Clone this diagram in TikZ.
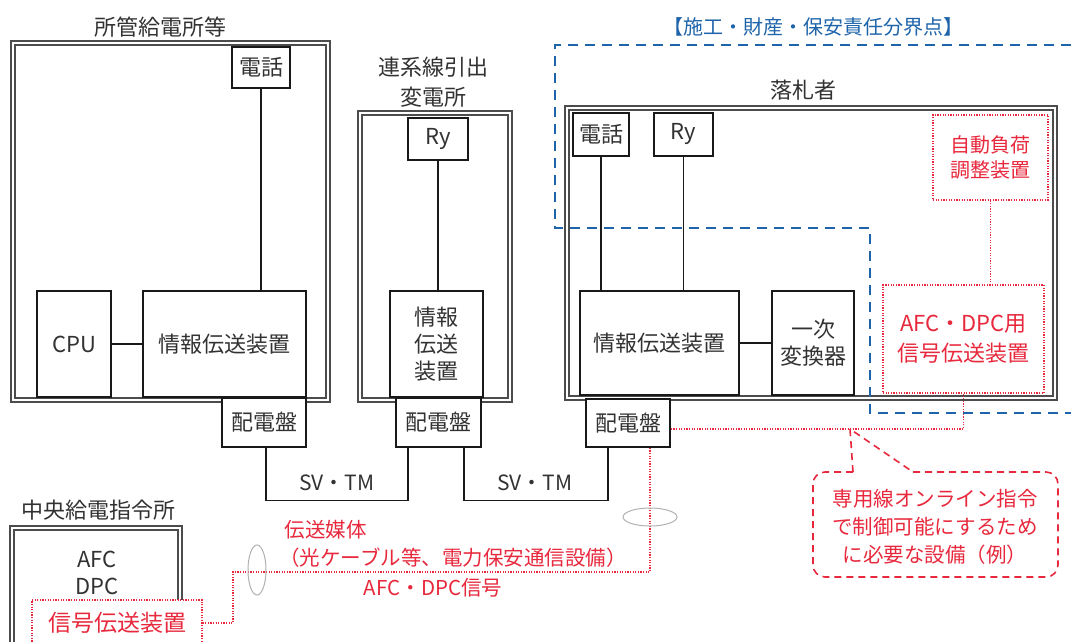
\documentclass[tikz,border=0pt]{standalone}
\usepackage{fontspec}
\setmainfont{Noto Sans CJK JP}
\definecolor{myred}{RGB}{232,40,60}
\definecolor{myblue}{RGB}{30,100,170}
\definecolor{txt}{RGB}{50,50,50}
\begin{document}
\begin{tikzpicture}[x=1pt,y=-1pt,
  box/.style={draw=black!90, line width=1.4pt, fill=white, inner sep=0pt, align=center, text=txt,
              font=\fontsize{22}{27}\selectfont},
  frame/.style={draw=gray!60!black, double=white, double distance=1.8pt, line width=2.1pt, inner sep=0pt},
  title/.style={text=txt, align=center, font=\fontsize{22}{30}\selectfont},
  conn/.style={draw=black!90, line width=1.4pt},
  reddot/.style={draw=myred, line width=1.2pt, dash pattern=on 1.2pt off 1.4pt},
  redbox/.style={reddot, fill=white, inner sep=0pt, align=center, text=myred},
  redtxt/.style={text=myred, font=\fontsize{20.5}{28}\selectfont, align=center},
  blueline/.style={draw=myblue, line width=2.2pt, dash pattern=on 10pt off 7pt},
  callout/.style={draw=myred, line width=1.6pt, dash pattern=on 7pt off 5pt},
  tie/.style={draw=gray!60, line width=1pt}
]
\useasboundingbox[fill=white] (0,0) rectangle (1071,641);

% ---------- left station ----------
\node[title] (t1) at (160,27) {所管給電所等};
\node[frame, minimum width=315, minimum height=357] (st1) at (170.5,221.5) {};
\node[box, minimum width=58, minimum height=41] (tel1) at (261,67.5) {電話};
\node[box, minimum width=74, minimum height=106] (cpu) at (74,344) {CPU};
\node[box, minimum width=163, minimum height=106] (info1) at (224.5,344) {情報伝送装置};
\node[box, minimum width=84, minimum height=49] (hd1) at (264,422.5) {配電盤};
\draw[conn] (tel1.south) -- (tel1.south |- info1.north);
\draw[conn] (cpu.east) -- (info1.west);

% ---------- middle station ----------
\node[title] (t2) at (433,82) {連系線引出\\変電所};
\node[frame, minimum width=150, minimum height=287] (st2) at (435,256.5) {};
\node[box, minimum width=60, minimum height=42] (ry2) at (438,139) {Ry};
\node[box, minimum width=93, minimum height=106] (info2) at (436.5,344) {情報\\伝送\\装置};
\node[box, minimum width=85, minimum height=49] (hd2) at (438.5,422.5) {配電盤};
\draw[conn] (ry2.south) -- (ry2.south |- info2.north);

% ---------- blue boundary ----------
\node[text=myblue, font=\fontsize{20}{24}\selectfont] (bl) at (813,27) {【施工・財産・保安責任分界点】};
\coordinate (bA) at (1071,45);
\coordinate (bB) at (555,45);
\coordinate (bC) at (555,228);
\coordinate (bD) at (870,228);
\coordinate (bE) at (870,413);
\coordinate (bF) at (1071,413);

% ---------- right station ----------
\node[title] (t3) at (803,90) {落札者};
\node[frame, minimum width=488, minimum height=290] (st3) at (811,253) {};
\node[box, minimum width=56, minimum height=43] (tel3) at (601,134.5) {電話};
\node[box, minimum width=59, minimum height=43] (ry3) at (683.5,134.5) {Ry};
\node[box, minimum width=159, minimum height=104] (info3) at (659.5,343) {情報伝送装置};
\node[box, minimum width=82, minimum height=104] (conv) at (813,343) {一次\\変換器};
\node[box, minimum width=84, minimum height=48] (hd3) at (628,423) {配電盤};
\node[redbox, minimum width=115, minimum height=85, font=\fontsize{20}{25}\selectfont] (auto) at (990.5,157.5) {自動負荷\\調整装置};
\node[redbox, minimum width=161, minimum height=108, font=\fontsize{22}{30}\selectfont] (afc) at (963.5,339) {AFC・DPC用\\信号伝送装置};
\draw[conn] (tel3.south) -- (tel3.south |- info3.north);
\draw[conn] (ry3.south) -- (ry3.south |- info3.north);
\draw[conn] (info3.east) -- (conv.west);
\draw[reddot] (auto.south) -- (auto.south |- afc.north);

\draw[blueline] (bA) -- (bB) -- (bC) -- (bD) -- (bE) -- (bF);

% ---------- SV・TM lines ----------
\draw[conn] ([xshift=2pt]hd1.south) -- ++(0,53) -| ([xshift=-30.5pt]hd2.south);
\draw[conn] ([xshift=25.5pt]hd2.south) -- ++(0,53) -| ([xshift=-20pt]hd3.south);
\node[text=txt, font=\fontsize{21}{25}\selectfont] (sv1) at (337,483) {SV・TM};
\node[text=txt, font=\fontsize{21}{25}\selectfont] (sv2) at (535,483) {SV・TM};

% ---------- central dispatch ----------
\node[title] (t4) at (98,510) {中央給電指令所};
\node[frame, minimum width=168, minimum height=152] (st4) at (96,604) {};
\node[text=txt, align=center, font=\fontsize{22}{27}\selectfont] (afcdpc) at (97,573) {AFC\\DPC};
\node[redbox, minimum width=170, minimum height=46, font=\fontsize{23}{27}\selectfont] (sig) at (117,623) {信号伝送装置};

% ---------- red signal path ----------
\coordinate (b1) at (233,572);
\draw[reddot] (sig.east) -| (b1) -| ([xshift=22pt]hd3.south);
\draw[reddot] ([yshift=-6pt]hd3.east) -| (afc.south);
\draw[tie] (257,570) ellipse [x radius=9, y radius=25];
\draw[tie] (650,517) ellipse [x radius=27, y radius=9];

\node[redtxt, anchor=west] (m1) at (281,530) {伝送媒体};
\node[redtxt] (m2) at (453,558) {（光ケーブル等、電力保安通信設備）};
\node[redtxt] (m3) at (433,588) {AFC・DPC信号};

% ---------- callout ----------
\coordinate (tip) at (850,429);
\draw[callout, rounded corners=12pt] (913,472) -- (1058,472) -- (1058,577) -- (813,577) -- (813,472) -- (853,472);
\draw[callout] (853,472) -- (tip) -- (913,472);
\node[redtxt] (ct) at (935,527) {専用線オンライン指令\\で制御可能にするため\\に必要な設備（例）};
\end{tikzpicture}
\end{document}
